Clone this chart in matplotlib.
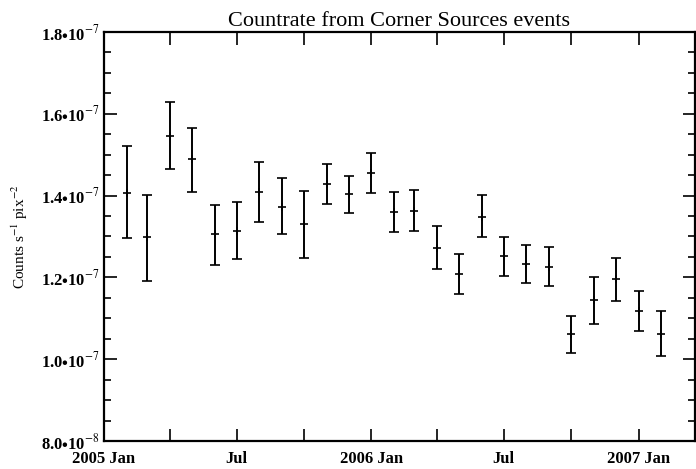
import matplotlib
matplotlib.use("Agg")
import matplotlib.pyplot as plt
import numpy as np
import datetime as dt

# monthly points, Feb 2005 .. Feb 2007
months = ["2005-02", "2005-03", "2005-04", "2005-05", "2005-06", "2005-07",
          "2005-08", "2005-09", "2005-10", "2005-11", "2005-12", "2006-01",
          "2006-02", "2006-03", "2006-04", "2006-05", "2006-06", "2006-07",
          "2006-08", "2006-09", "2006-10", "2006-11", "2006-12", "2007-01",
          "2007-02"]
rate = [1.406, 1.299, 1.546, 1.489, 1.306, 1.313, 1.409, 1.372, 1.331, 1.428,
        1.404, 1.455, 1.360, 1.362, 1.272, 1.208, 1.348, 1.252, 1.233, 1.225,
        1.062, 1.145, 1.196, 1.118, 1.062]
err_hi = [1.521, 1.401, 1.629, 1.565, 1.377, 1.384, 1.482, 1.443, 1.411, 1.477,
          1.448, 1.504, 1.409, 1.414, 1.326, 1.257, 1.401, 1.299, 1.279, 1.274,
          1.106, 1.201, 1.247, 1.167, 1.118]
err_lo = [1.296, 1.191, 1.465, 1.409, 1.230, 1.245, 1.335, 1.305, 1.247, 1.379,
          1.357, 1.406, 1.311, 1.313, 1.221, 1.159, 1.299, 1.203, 1.186, 1.179,
          1.015, 1.086, 1.142, 1.069, 1.008]

scale = 1e-7
dates = [dt.datetime.strptime(m, "%Y-%m") for m in months]
y = np.array(rate) * scale
yerr = [y - np.array(err_lo) * scale, np.array(err_hi) * scale - y]

plt.rcParams['font.family'] = ['Liberation Serif', 'DejaVu Serif']
plt.rcParams['mathtext.fontset'] = 'stix'

fig = plt.figure(figsize=(6.96, 4.69), dpi=100)
ax = fig.add_axes([0.1494, 0.0597, 0.849, 0.8721])

ax.errorbar(dates, y, yerr=yerr, fmt='+', color='black', ecolor='black',
            elinewidth=1.4, capsize=3.5, capthick=1.4, markersize=6,
            markeredgewidth=1.2)

ax.set_xlim(dt.datetime(2005, 1, 1), dt.datetime(2007, 3, 19))
ax.set_ylim(0.8e-7, 1.8e-7)

def ylab(v, pos):
    e = int(np.floor(np.log10(v) + 1e-9))
    m = v / 10**e
    return r"%.1f$\bullet$10$^{%d}$" % (m, e)

ax.set_yticks(np.arange(0.8e-7, 1.81e-7, 0.2e-7))
ax.yaxis.set_major_formatter(plt.FuncFormatter(ylab))
ax.set_yticks(np.arange(0.8e-7, 1.81e-7, 0.05e-7), minor=True)

xt = [dt.datetime(2005, 1, 1), dt.datetime(2005, 7, 1), dt.datetime(2006, 1, 1),
      dt.datetime(2006, 7, 1), dt.datetime(2007, 1, 1)]
ax.set_xticks(xt)
ax.set_xticklabels(["2005 Jan", "Jul", "2006 Jan", "Jul", "2007 Jan"],
                   fontweight='bold')
ax.set_xticks([dt.datetime(2005, 4, 1), dt.datetime(2005, 10, 1),
               dt.datetime(2006, 4, 1), dt.datetime(2006, 10, 1)], minor=True)

ax.tick_params(axis='both', which='both', direction='in', top=True, right=True,
               width=1.2)
ax.tick_params(axis='y', which='major', length=9, pad=3, labelsize=12)
ax.tick_params(axis='x', which='major', length=9, pad=7, labelsize=12)
ax.tick_params(axis='y', which='minor', length=5)
ax.tick_params(axis='x', which='minor', length=9)
for lab in ax.get_yticklabels():
    lab.set_fontweight('bold')

for s in ax.spines.values():
    s.set_linewidth(1.6)

ax.set_title("Countrate from Corner Sources events", fontsize=16, pad=4)
ax.set_ylabel(r"Counts s$^{-1}$ pix$^{-2}$", fontsize=11, labelpad=8)

fig.savefig("out.png", dpi=100)
